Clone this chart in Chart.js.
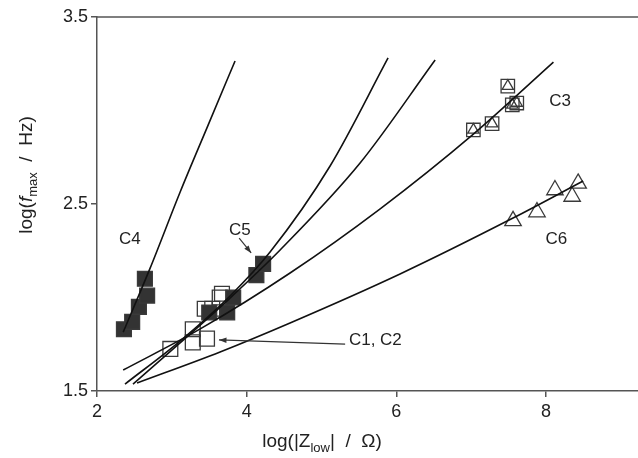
<!DOCTYPE html>
<html lang="en">
<head>
    <meta charset="UTF-8">
    <title>log(fmax) vs log(|Zlow|)</title>
    <script src="https://cdn.jsdelivr.net/npm/chart.js"></script>
    <style>
        body { margin: 0; background: #fff; }
    </style>
</head>
<body>
    <canvas id="chart" width="638" height="458"></canvas>

    <script>
        // axis ticks
        const xTicks = [2, 4, 6, 8];
        const yTicks = [1.5, 2.5, 3.5];

        // measured points
        const c4X = [2.36, 2.47, 2.56, 2.67, 2.64];
        const c4Y = [1.83, 1.87, 1.95, 2.01, 2.10];
        const c5X = [3.50, 3.74, 3.82, 4.13, 4.22];
        const c5Y = [1.92, 1.92, 2.00, 2.12, 2.18];
        const c12X = [2.98, 3.28, 3.28, 3.47, 3.44, 3.54, 3.67, 3.64];
        const c12Y = [1.725, 1.76, 1.83, 1.78, 1.94, 1.94, 2.02, 2.00];
        const c3X = [7.03, 7.28, 7.49, 7.55, 7.61];
        const c3Y = [2.896, 2.93, 3.13, 3.03, 3.04];
        const c6X = [7.56, 7.88, 8.12, 8.35, 8.43];
        const c6Y = [2.41, 2.457, 2.575, 2.54, 2.61];

        // fitted curves
        const fitC4X = [2.35, 2.71, 3.11, 3.485, 3.845];
        const fitC4Y = [1.815, 2.157, 2.563, 2.922, 3.265];
        const fitAX = [2.374, 3.110, 3.778, 4.313, 5.115, 5.890];
        const fitAY = [1.537, 1.767, 2.008, 2.243, 2.703, 3.281];
        const fitBX = [2.481, 3.110, 3.778, 4.447, 5.516, 6.519];
        const fitBY = [1.537, 1.757, 1.997, 2.254, 2.719, 3.270];
        const fitC3X = [2.35, 3.38, 4.58, 5.78, 7.03, 8.10];
        const fitC3Y = [1.612, 1.832, 2.131, 2.473, 2.874, 3.259];
        const fitC6X = [2.535, 3.645, 4.58, 6.05, 7.56, 8.497];
        const fitC6Y = [1.543, 1.709, 1.864, 2.126, 2.425, 2.623];

        // curve labels
        const labelText = ['C4', 'C5', 'C3', 'C6', 'C1, C2'];
        const labelX = [2.44, 3.91, 8.19, 8.14, 5.72];
        const labelY = [2.31, 2.36, 3.05, 2.31, 1.77];

        // arrows [fromX, fromY, toX, toY]
        const arrows = [
            [3.90, 2.318, 4.06, 2.238],
            [5.316, 1.751, 3.63, 1.773]
        ];

        const FONT = '"Liberation Sans", Arial, sans-serif';

        function pts(xs, ys) {
            return xs.map((x, i) => ({ x: x, y: ys[i] }));
        }

        function fitLine(xs, ys) {
            return {
                data: pts(xs, ys),
                showLine: true,
                borderColor: '#111',
                borderWidth: 1.6,
                pointRadius: 0,
                cubicInterpolationMode: 'monotone',
                order: 0
            };
        }

        function markers(xs, ys, style, radius, fill) {
            return {
                data: pts(xs, ys),
                showLine: false,
                pointStyle: style,
                pointRadius: radius,
                pointHoverRadius: radius,
                pointBackgroundColor: fill,
                pointBorderColor: '#3a3a3a',
                pointBorderWidth: 1.3,
                order: 1
            };
        }

        const annotations = {
            id: 'annotations',
            afterDraw(chart) {
                const ctx = chart.ctx;
                const xs = chart.scales.x, ys = chart.scales.y;
                const area = chart.chartArea;
                ctx.save();
                // top border
                ctx.strokeStyle = '#555';
                ctx.lineWidth = 1.5;
                ctx.beginPath();
                ctx.moveTo(area.left, area.top);
                ctx.lineTo(area.right, area.top);
                ctx.stroke();

                ctx.fillStyle = '#222';
                ctx.font = '17px ' + FONT;
                ctx.textAlign = 'center';
                ctx.textBaseline = 'middle';
                labelText.forEach((t, i) => {
                    ctx.fillText(t, xs.getPixelForValue(labelX[i]), ys.getPixelForValue(labelY[i]));
                });

                ctx.strokeStyle = '#333';
                ctx.fillStyle = '#333';
                ctx.lineWidth = 1.2;
                arrows.forEach(a => {
                    const x1 = xs.getPixelForValue(a[0]), y1 = ys.getPixelForValue(a[1]);
                    const x2 = xs.getPixelForValue(a[2]), y2 = ys.getPixelForValue(a[3]);
                    const ang = Math.atan2(y2 - y1, x2 - x1);
                    ctx.beginPath();
                    ctx.moveTo(x1, y1);
                    ctx.lineTo(x2, y2);
                    ctx.stroke();
                    ctx.beginPath();
                    ctx.moveTo(x2, y2);
                    ctx.lineTo(x2 - 8 * Math.cos(ang - 0.35), y2 - 8 * Math.sin(ang - 0.35));
                    ctx.lineTo(x2 - 8 * Math.cos(ang + 0.35), y2 - 8 * Math.sin(ang + 0.35));
                    ctx.closePath();
                    ctx.fill();
                });

                // axis titles with subscripts
                ctx.fillStyle = '#222';
                ctx.textAlign = 'left';
                ctx.textBaseline = 'alphabetic';
                const big = '19px ' + FONT, ital = 'italic 19px ' + FONT, small = '13px ' + FONT;

                function drawRuns(runs, cx, cy) {
                    let w = 0;
                    runs.forEach(r => { ctx.font = r[1]; w += ctx.measureText(r[0]).width; });
                    let x = cx - w / 2;
                    runs.forEach(r => {
                        ctx.font = r[1];
                        ctx.fillText(r[0], x, cy + (r[2] || 0));
                        x += ctx.measureText(r[0]).width;
                    });
                }

                drawRuns([
                    ['log(|Z', big], ['low', small, 5], ['|  /  \u03A9)', big]
                ], 322, 447);

                ctx.translate(32, 175);
                ctx.rotate(-Math.PI / 2);
                drawRuns([
                    ['log(', big], ['f', ital], ['max', small, 5], ['  /  Hz)', big]
                ], 0, 0);
                ctx.restore();
            }
        };

        new Chart(document.getElementById('chart'), {
            type: 'scatter',
            data: {
                datasets: [
                    fitLine(fitC4X, fitC4Y),
                    fitLine(fitAX, fitAY),
                    fitLine(fitBX, fitBY),
                    fitLine(fitC3X, fitC3Y),
                    fitLine(fitC6X, fitC6Y),
                    markers(c4X, c4Y, 'rect', 10.5, '#333'),
                    markers(c5X, c5Y, 'rect', 10.5, '#333'),
                    markers(c12X, c12Y, 'rect', 10.5, 'rgba(255,255,255,0)'),
                    markers(c3X, c3Y, 'rect', 9.5, 'rgba(255,255,255,0)'),
                    markers(c3X, c3Y, 'triangle', 6.5, 'rgba(255,255,255,0)'),
                    markers(c6X, c6Y, 'triangle', 9.5, 'rgba(255,255,255,0)')
                ]
            },
            options: {
                responsive: false,
                animation: false,
                layout: { autoPadding: false, padding: { top: 17, right: 0, left: 0, bottom: 0 } },
                plugins: {
                    legend: { display: false },
                    tooltip: { enabled: false }
                },
                scales: {
                    x: {
                        type: 'linear',
                        min: 2,
                        max: 9.23,
                        afterBuildTicks: s => { s.ticks = xTicks.map(v => ({ value: v })); },
                        afterFit: s => { s.height = 67; s.paddingRight = 0; s.paddingLeft = 0; },
                        ticks: { font: { family: FONT, size: 18 }, color: '#222', padding: 4 },
                        grid: { drawOnChartArea: false, drawTicks: true, tickLength: 6, color: '#555', lineWidth: 1.5 },
                        border: { color: '#555', width: 1.5 }
                    },
                    y: {
                        min: 1.5,
                        max: 3.5,
                        afterBuildTicks: s => { s.ticks = yTicks.map(v => ({ value: v })); },
                        afterFit: s => { s.width = 97; s.paddingTop = 0; s.paddingBottom = 0; },
                        ticks: { font: { family: FONT, size: 18 }, color: '#222', padding: 3,
                                 callback: v => v.toFixed(1) },
                        grid: { drawOnChartArea: false, drawTicks: true, tickLength: 6, color: '#555', lineWidth: 1.5 },
                        border: { color: '#555', width: 1.5 }
                    }
                }
            },
            plugins: [annotations]
        });
    </script>
</body>
</html>
